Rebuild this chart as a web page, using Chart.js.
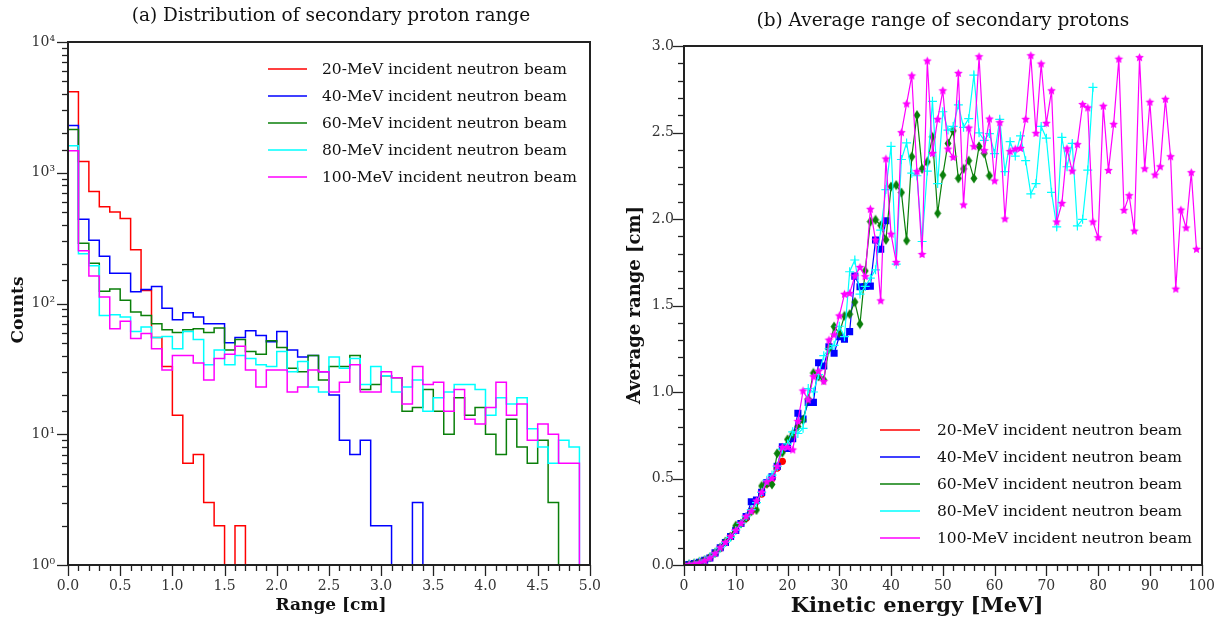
<!DOCTYPE html>
<html><head><meta charset="utf-8">
<script src="https://cdn.jsdelivr.net/npm/chart.js@4.4.1/dist/chart.umd.min.js"></script>
<style>
html,body{margin:0;padding:0;background:#fff;}
#wrap{position:relative;width:1228px;height:625px;overflow:hidden;background:#fff;}
canvas{position:absolute;top:0;}
#c1{left:0;} #c2{left:614px;}
</style></head><body>
<div id="wrap"><canvas id="c1" width="614" height="625"></canvas><canvas id="c2" width="614" height="625"></canvas></div>
<script>
// ---------- data ----------
const seriesLabels = ['20-MeV incident neutron beam','40-MeV incident neutron beam','60-MeV incident neutron beam','80-MeV incident neutron beam','100-MeV incident neutron beam'];
const seriesColors = ['#ff0000','#0000ff','#0a7f0a','#00ffff','#ff00ff'];

// (a) histogram: lower bin edges [cm], bin width 0.1 cm
const rangeBinEdges = [0.0,0.1,0.2,0.3,0.4,0.5,0.6,0.7,0.8,0.9,1.0,1.1,1.2,1.3,1.4,1.5,1.6,1.7,1.8,1.9,2.0,2.1,2.2,2.3,2.4,2.5,2.6,2.7,2.8,2.9,3.0,3.1,3.2,3.3,3.4,3.5,3.6,3.7,3.8,3.9,4.0,4.1,4.2,4.3,4.4,4.5,4.6,4.7,4.8,4.9];
const rangeBinWidth = 0.1;
const counts20 = [4170,1220,720,550,500,447,258,126,55,33,14,6,7,3,2,0,2,0,0,0,0,0,0,0,0,0,0,0,0,0,0,0,0,0,0,0,0,0,0,0,0,0,0,0,0,0,0,0,0,0];
const counts40 = [2300,440,304,230,170,170,123,128,135,92,75,85,79,70,70,50,55,62,57,51,61,44,39,40,30,20,9,7,9,2,2,0,0,3,0,0,0,0,0,0,0,0,0,0,0,0,0,0,0,0];
const counts60 = [2140,289,203,124,129,106,86,81,70,63,60,63,64,60,65,44,53,43,41,52,46,32,30,40,26,33,33,40,22,24,28,27,15,16,22,15,10,19,14,16,10,7,13,8,6,9,3,0,0,0];
const counts80 = [1607,240,194,81,82,79,61,66,55,56,45,61,53,34,44,34,40,38,34,33,43,30,36,23,21,39,32,38,24,33,28,21,23,26,15,19,21,24,24,22,14,19,17,19,11,8,6,9,8,0];
const counts100 = [1473,253,162,112,64,73,54,59,45,31,40,40,35,26,38,41,47,31,23,31,31,21,23,31,30,21,25,34,21,21,30,27,17,33,24,25,15,22,13,12,16,25,14,17,9,12,10,6,6,0];
const countsAxisMin = 1, countsAxisMax = 10000;

// (b) average range [cm] vs kinetic energy [MeV]
const energyMeV = [0,1,2,3,4,5,6,7,8,9,10,11,12,13,14,15,16,17,18,19,20,21,22,23,24,25,26,27,28,29,30,31,32,33,34,35,36,37,38,39,40,41,42,43,44,45,46,47,48,49,50,51,52,53,54,55,56,57,58,59,60,61,62,63,64,65,66,67,68,69,70,71,72,73,74,75,76,77,78,79,80,81,82,83,84,85,86,87,88,89,90,91,92,93,94,95,96,97,98,99];
const avgRange20 = [0.0,0.003,0.008,0.016,0.027,0.042,0.068,0.098,0.13,0.165,0.2,0.24,0.27,0.312,0.37,0.41,0.47,0.50,0.56,0.599];
const avgRange40 = [0.0,0.003,0.008,0.015,0.027,0.04,0.07,0.10,0.13,0.165,0.20,0.24,0.28,0.366,0.376,0.42,0.476,0.51,0.57,0.684,0.674,0.73,0.877,0.844,0.94,0.94,1.169,1.15,1.262,1.224,1.32,1.305,1.349,1.67,1.608,1.61,1.612,1.879,1.825,1.99];
const avgRange60 = [0.0,0.004,0.01,0.018,0.028,0.045,0.07,0.10,0.135,0.165,0.227,0.24,0.27,0.31,0.318,0.457,0.47,0.466,0.645,0.65,0.726,0.757,0.80,0.838,0.96,1.11,1.09,1.07,1.25,1.378,1.34,1.44,1.45,1.52,1.393,1.70,1.985,1.995,1.963,1.88,2.187,2.196,2.153,1.875,2.36,2.60,2.29,2.33,2.475,2.033,2.254,2.437,2.51,2.235,2.29,2.337,2.235,2.42,2.38,2.25];
const avgRange80 = [0.0,0.004,0.009,0.017,0.028,0.045,0.07,0.10,0.13,0.16,0.20,0.24,0.28,0.32,0.36,0.42,0.49,0.52,0.57,0.67,0.70,0.77,0.76,0.79,1.02,1.00,1.10,1.21,1.25,1.27,1.38,1.32,1.695,1.763,1.566,1.61,1.658,1.706,1.936,2.17,2.42,1.739,2.344,2.44,2.265,2.25,1.87,2.277,2.68,2.205,2.62,2.514,2.535,2.66,2.53,2.58,2.832,2.498,2.455,2.494,2.378,2.576,2.274,2.447,2.364,2.48,2.337,2.145,2.205,2.535,2.467,2.154,1.955,2.472,2.302,2.437,1.96,1.998,2.283,2.761];
const avgRange100 = [0.0,0.002,0.006,0.012,0.024,0.04,0.066,0.10,0.13,0.165,0.20,0.24,0.28,0.31,0.37,0.42,0.48,0.50,0.57,0.68,0.68,0.665,0.83,1.006,0.954,1.088,1.12,1.06,1.30,1.33,1.44,1.565,1.57,1.67,1.72,1.667,2.056,1.878,1.527,2.347,1.912,1.749,2.499,2.665,2.827,2.274,1.795,2.913,2.379,2.576,2.741,2.404,2.356,2.842,2.081,2.526,2.418,2.938,2.395,2.578,2.22,2.557,2.0,2.39,2.404,2.408,2.576,2.944,2.495,2.896,2.553,2.741,1.983,2.09,2.406,2.277,2.43,2.662,2.642,1.983,1.892,2.652,2.28,2.547,2.924,2.05,2.135,1.93,2.933,2.29,2.675,2.254,2.302,2.692,2.36,1.595,2.052,1.948,2.268,1.825];

const countsSeries = [counts20,counts40,counts60,counts80,counts100];
const rangeSeries = [avgRange20,avgRange40,avgRange60,avgRange80,avgRange100];

const titleA = '(a) Distribution of secondary proton range';
const titleB = '(b) Average range of secondary protons';
const xTitleA = 'Range [cm]', yTitleA = 'Counts';
const xTitleB = 'Kinetic energy [MeV]', yTitleB = 'Average range [cm]';

// ---------- helpers ----------
const SERIF = '"DejaVu Serif", serif';
const SUP = ['\u2070','\u00b9','\u00b2','\u00b3','\u2074'];

function markerCanvas(kind, color){
  const c = document.createElement('canvas');
  const g = c.getContext('2d');
  if (kind === 'star'){
    const r = 4.6, s = 11; c.width = c.height = s; g.fillStyle = color; g.beginPath();
    for (let i=0;i<10;i++){ const a=-Math.PI/2+i*Math.PI/5; const rr=(i%2)?r*0.48:r; g.lineTo(s/2+rr*Math.cos(a), s/2+rr*Math.sin(a)); }
    g.closePath(); g.fill();
  } else if (kind === 'diamond'){
    c.width = 8; c.height = 11; g.fillStyle = color; g.beginPath();
    g.moveTo(4,0.5); g.lineTo(7.5,5.5); g.lineTo(4,10.5); g.lineTo(0.5,5.5); g.closePath(); g.fill();
  }
  return c;
}

const framePlugin = {
  id: 'rootFrame',
  afterDraw(chart){
    const ctx = chart.ctx, a = chart.chartArea;
    ctx.save();
    ctx.strokeStyle = '#222';
    ctx.lineWidth = 2;
    ctx.strokeRect(Math.round(a.left), Math.round(a.top), Math.round(a.right-a.left), Math.round(a.bottom-a.top));
    ctx.lineWidth = 1.3;
    ['x','y'].forEach(id => {
      const s = chart.scales[id];
      s.ticks.forEach(t => {
        const major = t.label !== '' && t.label != null;
        const len = major ? 11 : 6;
        const p = Math.round(s.getPixelForValue(t.value)) + 0.5;
        ctx.beginPath();
        if (id === 'x'){ ctx.moveTo(p, a.bottom); ctx.lineTo(p, a.bottom + len); }
        else { ctx.moveTo(a.left, p); ctx.lineTo(a.left - len, p); }
        ctx.stroke();
      });
    });
    ctx.restore();
  }
};

const textPlugin = {
  id: 'rootTexts',
  afterDraw(chart, args, o){
    const ctx = chart.ctx, a = chart.chartArea;
    ctx.save();
    ctx.fillStyle = '#111';
    ctx.textAlign = 'center'; ctx.textBaseline = 'alphabetic';
    ctx.font = '18.5px ' + SERIF;
    ctx.fillText(o.title, (a.left+a.right)/2 + o.titleDx, o.titleY);
    ctx.textBaseline = 'middle';
    ctx.font = 'bold ' + o.xTitleSize + 'px ' + SERIF;
    ctx.fillText(o.xTitle, o.xTitleX, o.xTitleY);
    ctx.font = 'bold ' + o.yTitleSize + 'px ' + SERIF;
    ctx.save(); ctx.translate(o.yTitleX, o.yTitleY); ctx.rotate(-Math.PI/2); ctx.fillText(o.yTitle, 0, 0); ctx.restore();
    // legend
    const L = o.legend;
    ctx.font = '15.5px ' + SERIF; ctx.textAlign = 'left'; ctx.textBaseline = 'middle';
    chart.data.datasets.forEach((ds, i) => {
      const y = L.y0 + i*L.dy;
      ctx.strokeStyle = ds.borderColor; ctx.lineWidth = L.lw;
      ctx.beginPath(); ctx.moveTo(L.x1, y); ctx.lineTo(L.x2, y); ctx.stroke();
      ctx.fillStyle = '#111';
      ctx.fillText(ds.label, L.tx, y+1);
    });
    ctx.restore();
  }
};

const tickFont = {family: SERIF, size: 14};

// ---------- chart (a) ----------
// empty bins are drawn on the lower edge of the log axis
const histDatasets = countsSeries.map((arr, si) => {
  const yv = v => (v > countsAxisMin ? v : countsAxisMin);
  const pts = [{x: rangeBinEdges[0], y: countsAxisMin}];
  arr.forEach((v, k) => { pts.push({x: rangeBinEdges[k], y: yv(v)}); pts.push({x: rangeBinEdges[k] + rangeBinWidth, y: yv(v)}); });
  return {label: seriesLabels[si], data: pts, borderColor: seriesColors[si], borderWidth: 1.5, pointRadius: 0, tension: 0, fill: false, order: 4 - si};
});

new Chart(document.getElementById('c1'), {
  type: 'line',
  data: {datasets: histDatasets},
  plugins: [framePlugin, textPlugin],
  options: {
    responsive: false, animation: false, devicePixelRatio: 1,
    layout: {padding: {top: 42, right: 20, left: 0, bottom: 0}},
    plugins: {
      legend: {display: false}, tooltip: {enabled: false},
      rootTexts: {title: titleA, titleDx: 2, titleY: 21, xTitle: xTitleA, xTitleSize: 17, xTitleX: 331, xTitleY: 606,
        yTitle: yTitleA, yTitleSize: 17, yTitleX: 19, yTitleY: 310,
        legend: {x1: 268, x2: 307, tx: 322, y0: 69, dy: 27, lw: 1.5}}
    },
    scales: {
      x: {type: 'linear', min: 0, max: 5, afterFit(s){ s.height = 60; },
          grid: {display: false, drawTicks: false}, border: {display: false},
          ticks: {stepSize: 0.1, autoSkip: false, maxRotation: 0, padding: 13, color: '#333', font: tickFont,
                  callback: v => (Math.round(v*10) % 5 === 0) ? Number(v).toFixed(1) : ''}},
      y: {type: 'logarithmic', min: countsAxisMin, max: countsAxisMax, afterFit(s){ s.width = 68; },
          grid: {display: false, drawTicks: false}, border: {display: false},
          ticks: {autoSkip: false, padding: 13, color: '#333', font: tickFont,
                  callback: v => { const l = Math.log10(v); const r = Math.round(l); return Math.abs(l - r) < 1e-9 ? '10' + SUP[r] : ''; }}}
    }
  }
});

// ---------- chart (b) ----------
const markerStyles = [
  {style: 'circle', radius: 3.6},
  {style: 'rect', radius: 5},
  {style: markerCanvas('diamond', seriesColors[2]), radius: 5},
  {style: 'cross', radius: 4.5},
  {style: markerCanvas('star', seriesColors[4]), radius: 5}
];
const rangeDatasets = rangeSeries.map((arr, si) => ({
  label: seriesLabels[si],
  data: arr.map((v, i) => ({x: energyMeV[i], y: v})),
  borderColor: seriesColors[si], backgroundColor: seriesColors[si],
  borderWidth: 1.2, tension: 0, fill: false,
  pointStyle: markerStyles[si].style, pointRadius: markerStyles[si].radius,
  pointBorderWidth: si === 3 ? 1.2 : 0, pointBorderColor: seriesColors[si], pointBackgroundColor: seriesColors[si],
  order: 4 - si
}));

new Chart(document.getElementById('c2'), {
  type: 'line',
  data: {datasets: rangeDatasets},
  plugins: [framePlugin, textPlugin],
  options: {
    responsive: false, animation: false, devicePixelRatio: 1,
    layout: {padding: {top: 46, right: 21, left: 0, bottom: 0}},
    plugins: {
      legend: {display: false}, tooltip: {enabled: false},
      rootTexts: {title: titleB, titleDx: 0, titleY: 26, xTitle: xTitleB, xTitleSize: 21, xTitleX: 303, xTitleY: 607,
        yTitle: yTitleB, yTitleSize: 18, yTitleX: 21, yTitleY: 305,
        legend: {x1: 266, x2: 306, tx: 323, y0: 430, dy: 27, lw: 1.5}}
    },
    scales: {
      x: {type: 'linear', min: 0, max: 100, afterFit(s){ s.height = 60; },
          grid: {display: false, drawTicks: false}, border: {display: false},
          ticks: {stepSize: 2, autoSkip: false, maxRotation: 0, padding: 13, color: '#333', font: tickFont,
                  callback: v => (Math.round(v) % 10 === 0) ? String(Math.round(v)) : ''}},
      y: {type: 'linear', min: 0, max: 3, afterFit(s){ s.width = 70; },
          grid: {display: false, drawTicks: false}, border: {display: false},
          ticks: {stepSize: 0.1, autoSkip: false, padding: 10, color: '#333', font: tickFont,
                  callback: v => (Math.round(v*10) % 5 === 0) ? Number(v).toFixed(1) : ''}}
    }
  }
});
</script>
</body></html>
